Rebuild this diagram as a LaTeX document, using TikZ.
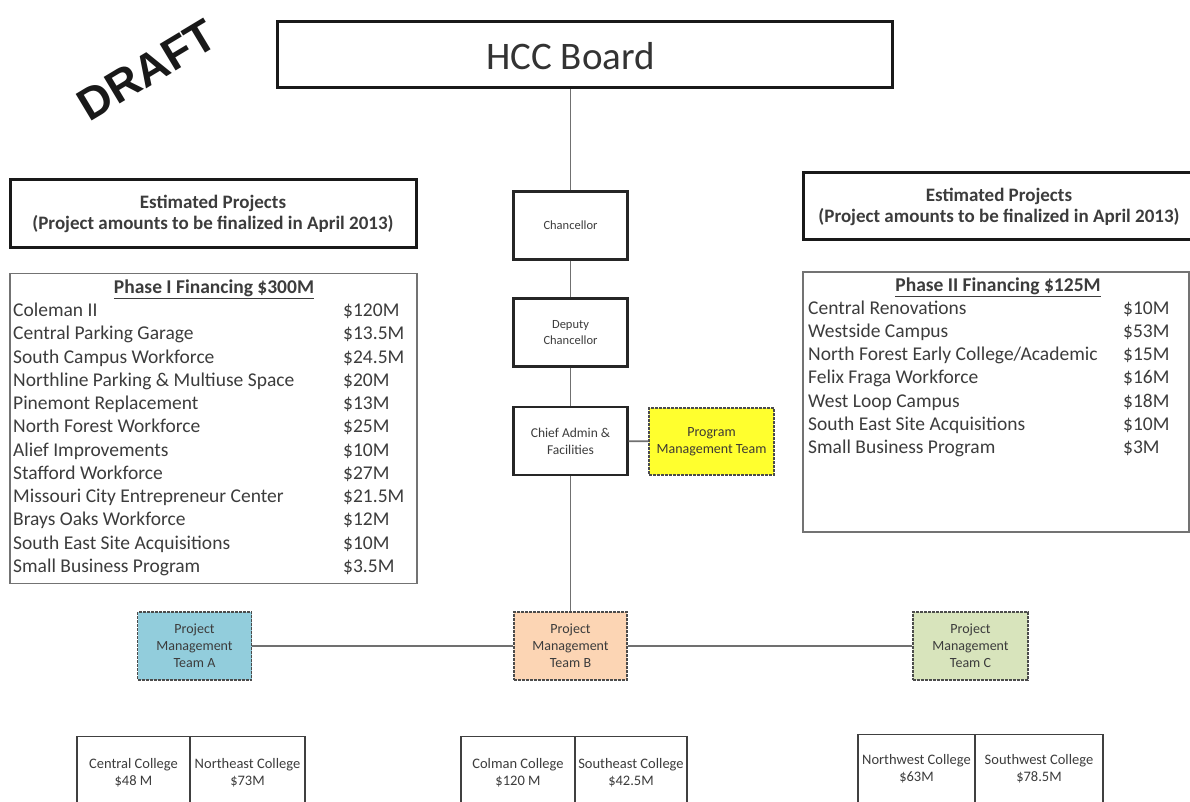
\documentclass[tikz,border=0pt]{standalone}
\usepackage{fontspec}
\setmainfont{Carlito}
\newfontfamily\draftfont{Liberation Sans}
\definecolor{txt}{HTML}{3C3C3C}
\definecolor{lin}{HTML}{707070}
\definecolor{teamAcol}{HTML}{92CDDC}
\definecolor{teamBcol}{HTML}{FCD5B4}
\definecolor{teamCcol}{HTML}{D8E4BC}
\definecolor{pmtcol}{HTML}{FFFF2E}
\begin{document}
\begin{tikzpicture}[x=1pt,y=-1pt,
  bigbox/.style={draw=black!90, line width=3pt, fill=white, inner sep=0pt},
  orgbox/.style={draw=black!85, line width=2.2pt, fill=white, align=center, text=txt,
    font=\fontsize{12.5}{16.5}\selectfont, inner sep=0pt, minimum width=114pt, minimum height=68pt},
  teambox/.style={draw=black!70, line width=1.2pt, dash pattern=on 3pt off 1pt, align=center, text=txt,
    font=\fontsize{14}{17}\selectfont, inner sep=0pt, minimum height=68pt},
  listbox/.style={draw=black!55, line width=1.3pt, fill=white, inner sep=0pt},
  estbox/.style={bigbox, align=center, text=txt, font=\bfseries\fontsize{19}{21}\selectfont},
  item/.style={anchor=west, inner sep=0pt, text=txt, font=\fontsize{19.5}{20}\selectfont,
    text height=13pt, text depth=4pt},
  title/.style={inner sep=0pt, text=txt, font=\bfseries\fontsize{19.5}{20}\selectfont},
  colbox/.style={draw=black!75, line width=1.4pt, align=center, text=txt, anchor=north,
    font=\fontsize{14.5}{17.5}\selectfont, inner sep=0pt, minimum height=72pt},
  conn/.style={draw=lin, line width=1.6pt}
]
\clip (0,0) rectangle (1190,802);
\fill[white] (0,0) rectangle (1190,802);

% title
\node[bigbox, minimum width=615pt, minimum height=66pt] (hcc) at (584.5,55) {};
\node[inner sep=0pt, font=\fontsize{39}{40}\selectfont, text=black!80] (hcct) at (570.5,56) {HCC Board};
\node[rotate=31, font=\draftfont\bfseries\fontsize{45}{45}\selectfont, text=black!90] (draft) at (147,70) {DRAFT};

% chain
\node[orgbox] (chan) at (570.5,225.5) {Chancellor};
\node[orgbox] (dep) at (570.5,332.5) {Deputy\\Chancellor};
\node[orgbox, font=\fontsize{13.5}{17}\selectfont] (chief) at (570.5,441) {Chief Admin \&\\Facilities};
\node[teambox, fill=pmtcol, minimum width=125pt, minimum height=67pt, font=\fontsize{14}{17}\selectfont, text=black!70!yellow!40!black] (pmt) at (711.5,441.5) {Program\\Management Team};

\node[teambox, fill=teamAcol, minimum width=114pt] (teamA) at (194.5,646) {Project\\Management\\Team A};
\node[teambox, fill=teamBcol, minimum width=113pt] (teamB) at (570.5,646) {Project\\Management\\Team B};
\node[teambox, fill=teamCcol, minimum width=115pt] (teamC) at (970.5,646) {Project\\Management\\Team C};

\draw[conn] (chan.north) -- (chan.north |- hcc.south);
\draw[conn] (chan) -- (dep);
\draw[conn] (dep) -- (chief);
\draw[conn] (chief) -- (pmt);
\draw[conn] (chief) -- (teamB);
\draw[conn] (teamA) -- (teamB);
\draw[conn] (teamB) -- (teamC);

% estimated boxes
\node[estbox, minimum width=406pt, minimum height=67pt] (estL) at (213,213.5) {Estimated Projects\\(Project amounts to be finalized in April 2013)};
\node[estbox, minimum width=392pt, minimum height=67pt] (estR) at (999,206.5) {Estimated Projects\\(Project amounts to be finalized in April 2013)};

% phase I
\node[listbox, minimum width=407pt, minimum height=310pt] (ph1) at (213.5,428.5) {};
\node[title] (ph1t) at (214,289) {\underline{Phase I Financing \$300M}};
\foreach \t/\a [count=\i] in {Coleman II/\$120M, Central Parking Garage/\$13.5M, South Campus Workforce/\$24.5M,
  Northline Parking \& Multiuse Space/\$20M, Pinemont Replacement/\$13M, North Forest Workforce/\$25M,
  Alief Improvements/\$10M, Stafford Workforce/\$27M, Missouri City Entrepreneur Center/\$21.5M,
  Brays Oaks Workforce/\$12M, South East Site Acquisitions/\$10M, Small Business Program/\$3.5M}{
  \node[item] (pa\i) at (13,{312+23.27*(\i-1)}) {\t};
  \node[item] (pb\i) at (343,{312+23.27*(\i-1)}) {\a};
}

% phase II
\node[listbox, minimum width=386pt, minimum height=260pt] (ph2) at (996,402) {};
\node[title] (ph2t) at (998,287) {\underline{Phase II Financing \$125M}};
\foreach \t/\a [count=\i] in {Central Renovations/\$10M, Westside Campus/\$53M,
  {North Forest Early College/Academic}/\$15M, Felix Fraga Workforce/\$16M, West Loop Campus/\$18M,
  South East Site Acquisitions/\$10M, Small Business Program/\$3M}{
  \node[item] (qa\i) at (808,{309.5+23.3*(\i-1)}) {\t};
  \node[item] (qb\i) at (1123,{309.5+23.3*(\i-1)}) {\a};
}

% colleges
\node[colbox, minimum width=113pt] (c1) at (133.5,736) {Central College\\\$48 M};
\node[colbox, minimum width=115pt] (c2) at (247.5,736) {Northeast College\\\$73M};
\node[colbox, minimum width=114pt] (c3) at (518,736) {Colman College\\\$120 M};
\node[colbox, minimum width=112pt] (c4) at (631,736) {Southeast College\\\$42.5M};
\node[colbox, minimum width=117pt, minimum height=68pt] (c5) at (916.5,734) {Northwest College\\\$63M};
\node[colbox, minimum width=128pt, minimum height=68pt] (c6) at (1039,734) {Southwest College\\\$78.5M};
\end{tikzpicture}
\end{document}
